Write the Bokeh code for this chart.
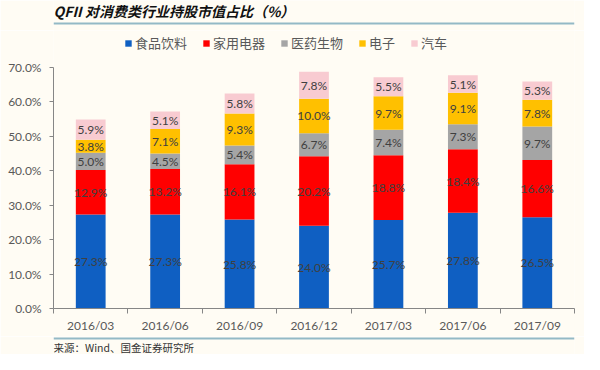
import numpy as np
import pandas as pd
from bokeh.plotting import figure
from bokeh.models import (ColumnDataSource, Range1d, FixedTicker, PrintfTickFormatter,
                          Legend, LegendItem, Span, Label, CustomJSTickFormatter)
from bokeh.layouts import column
from bokeh.core.properties import value
from bokeh.embed import file_html
from bokeh.resources import INLINE

# ---------------- data ----------------
categories = ["2016/03", "2016/06", "2016/09", "2016/12", "2017/03", "2017/06", "2017/09"]
food = [27.3, 27.3, 25.8, 24.0, 25.7, 27.8, 26.5]          # 食品饮料
appliance = [12.9, 13.2, 16.1, 20.2, 18.8, 18.4, 16.6]     # 家用电器
pharma = [5.0, 4.5, 5.4, 6.7, 7.4, 7.3, 9.7]               # 医药生物
electronics = [3.8, 7.1, 9.3, 10.0, 9.7, 9.1, 7.8]         # 电子
auto = [5.9, 5.1, 5.8, 7.8, 5.5, 5.1, 5.3]                 # 汽车
series_names = ["食品饮料", "家用电器", "医药生物", "电子", "汽车"]
series_colors = ["#0F5FC2", "#FF0000", "#A5A5A5", "#FFC000", "#F8CBD1"]
y_ticks = [0, 10, 20, 30, 40, 50, 60, 70]
title_text = "QFII 对消费类行业持股市值占比（%）"
source_text = "来源：Wind、国金证券研究所"

# ---------------- style ----------------
W = 584
BG = "#FFFCF4"
AXIS = "#868686"
TXT = "#595959"
RULE = "#93B9C6"

series = [food, appliance, pharma, electronics, auto]
keys = [f"s{i}" for i in range(len(series))]
n = len(categories)
xpos = np.arange(n) + 0.5

src = ColumnDataSource(dict(x=xpos, **{k: v for k, v in zip(keys, series)}))

# label positions (segment centres)
vals = np.array(series)
tops = np.cumsum(vals, axis=0)
bottoms = tops - vals
centres = (tops + bottoms) / 2
lab = pd.DataFrame({
    "x": np.tile(xpos, len(series)),
    "y": centres.ravel(),
    "text": [f"{v:.1f}%" for v in vals.ravel()],
})
lab_src = ColumnDataSource(lab)

# ---------------- header ----------------
header = figure(width=W, height=30, x_range=Range1d(0, W), y_range=Range1d(0, 30),
                x_axis_type=None, y_axis_type=None, min_border=0,
                output_backend="svg", toolbar_location=None,
                background_fill_color=BG, border_fill_color=BG, outline_line_color=None)
header.grid.visible = False
header.add_layout(Label(x=0, y=20, x_units="screen", y_units="screen", text=title_text,
                        text_font="Noto Sans CJK SC", text_font_style="bold italic",
                        text_font_size="14px", text_color="#111111", text_baseline="middle"))
header.add_layout(Span(location=7, dimension="width", line_color=RULE, line_width=2))

# ---------------- chart ----------------
p = figure(frame_width=521, frame_height=278, x_range=Range1d(0, n), y_range=Range1d(0, 80.7),
           output_backend="svg", toolbar_location=None,
           min_border_left=53, min_border_right=10, min_border_top=0, min_border_bottom=28,
           background_fill_color=BG, border_fill_color=BG, outline_line_color=None)
p.xgrid.visible = False
p.ygrid.visible = False

renderers = p.vbar_stack(keys, x="x", width=0.4, fill_color=series_colors,
                         line_color=None, source=src)

p.text(x="x", y="y", text="text", source=lab_src, text_align="center",
       text_baseline="middle", text_font=value("Lato"), text_font_size="12px",
       text_color="#404040")

legend = Legend(items=[LegendItem(label=nm, renderers=[r]) for nm, r in zip(series_names, renderers)],
                orientation="horizontal", location=(71, 256), padding=0, margin=0,
                spacing=15, glyph_width=8, glyph_height=8, label_standoff=3,
                label_height=14, label_text_font="Noto Sans CJK SC",
                label_text_font_size="13px", label_text_color=TXT,
                border_line_color=None, background_fill_alpha=0)
p.add_layout(legend)

xa = p.xaxis[0]
xa.ticker = FixedTicker(ticks=list(xpos), minor_ticks=list(range(n + 1)))
xa.formatter = CustomJSTickFormatter(args=dict(cats=categories),
                                     code="return cats[Math.floor(tick)] || '';")
xa.axis_line_color = AXIS
xa.major_tick_out = 0
xa.major_tick_in = 0
xa.minor_tick_out = 5
xa.minor_tick_in = 0
xa.minor_tick_line_color = AXIS
xa.major_label_text_font = "Lato"
xa.major_label_text_font_size = "12px"
xa.major_label_text_color = TXT
xa.major_label_standoff = 4

ya = p.yaxis[0]
ya.ticker = FixedTicker(ticks=y_ticks)
ya.formatter = PrintfTickFormatter(format="%.1f%%")
ya.bounds = (y_ticks[0], y_ticks[-1])
ya.axis_line_color = AXIS
ya.major_tick_line_color = AXIS
ya.major_tick_out = 4
ya.major_tick_in = 0
ya.minor_tick_line_color = None
ya.major_label_text_font = "Lato"
ya.major_label_text_font_size = "12px"
ya.major_label_text_color = TXT
ya.major_label_standoff = 8

# ---------------- footer ----------------
footer = figure(width=W, height=18, x_range=Range1d(0, W), y_range=Range1d(0, 18),
                x_axis_type=None, y_axis_type=None, min_border=0,
                output_backend="svg", toolbar_location=None,
                background_fill_color=BG, border_fill_color=BG, outline_line_color=None)
footer.grid.visible = False
footer.add_layout(Span(location=16, dimension="width", line_color=RULE, line_width=2))
footer.add_layout(Label(x=0, y=7.5, x_units="screen", y_units="screen", text=source_text,
                        text_font="Noto Sans CJK SC", text_font_size="10.5px",
                        text_color="#333333", text_baseline="middle"))

layout = column(header, p, footer, spacing=0)
open("out.html", "w").write(file_html(layout, INLINE))
